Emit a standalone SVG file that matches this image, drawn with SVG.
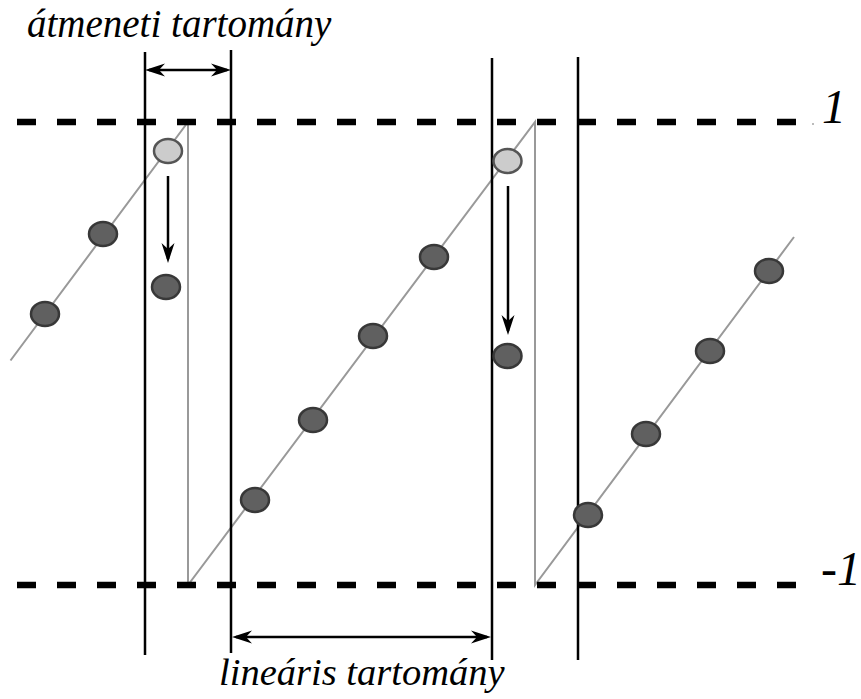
<svg xmlns="http://www.w3.org/2000/svg" width="861" height="699" viewBox="0 0 861 699">
<style>
.lbl{font-family:'Liberation Serif','DejaVu Serif',serif;font-style:italic;fill:#000}
.saw{stroke:#999;stroke-width:2;fill:none}
.bound{stroke:#000;stroke-width:2.5}
.dash{stroke:#000;stroke-width:6.5;stroke-dasharray:19 21}
.dark{fill:#606060;stroke:#383838;stroke-width:2.5}
.light{fill:#cccccc;stroke:#555;stroke-width:2.5}
.arr{stroke:#000;stroke-width:2.5;fill:none}
</style>
<defs>
<marker id="ah" viewBox="-21 -7 22 14" markerWidth="22" markerHeight="14" refX="-4" refY="0" markerUnits="userSpaceOnUse" orient="auto-start-reverse">
<path d="M0,0 L-20,-6.5 L-14,0 L-20,6.5 Z" fill="#000"/>
</marker>
</defs>
<rect width="861" height="699" fill="#fff"/>
<g id="signal">
<polyline class="saw" points="10.5,360.5 188,122 188,585 535,122 535,585 794,237"/>
</g>
<g id="bounds">
<line class="bound" x1="145" y1="52" x2="145" y2="655"/>
<line class="bound" x1="231" y1="50" x2="231" y2="653"/>
<line class="bound" x1="492" y1="58" x2="492" y2="660"/>
<line class="bound" x1="578" y1="57" x2="578" y2="660"/>
</g>
<g id="levels">
<line class="dash" x1="17" y1="122" x2="796" y2="122"/>
<line class="dash" x1="17" y1="585" x2="796" y2="585"/>
<rect x="812" y="123" width="2" height="2" fill="#bbb"/>
</g>
<g id="connectors">
<line class="arr" x1="149" y1="70" x2="227" y2="70" marker-start="url(#ah)" marker-end="url(#ah)"/>
<line class="arr" x1="236" y1="637" x2="487" y2="637" marker-start="url(#ah)" marker-end="url(#ah)"/>
<line class="arr" x1="168" y1="176" x2="168" y2="259" marker-end="url(#ah)"/>
<line class="arr" x1="508" y1="186" x2="508" y2="331" marker-end="url(#ah)"/>
</g>
<g id="dot1"><ellipse class="dark" cx="45" cy="314" rx="14" ry="12"/></g>
<g id="dot2"><ellipse class="dark" cx="103" cy="234" rx="14" ry="12"/></g>
<g id="dot3"><ellipse class="light" cx="168" cy="151" rx="14" ry="12"/></g>
<g id="dot4"><ellipse class="dark" cx="166" cy="287" rx="14" ry="12"/></g>
<g id="dot5"><ellipse class="dark" cx="255" cy="500" rx="14" ry="12"/></g>
<g id="dot6"><ellipse class="dark" cx="313" cy="420" rx="14" ry="12"/></g>
<g id="dot7"><ellipse class="dark" cx="373" cy="336" rx="14" ry="12"/></g>
<g id="dot8"><ellipse class="dark" cx="434" cy="257" rx="14" ry="12"/></g>
<g id="dot9"><ellipse class="light" cx="507.5" cy="161" rx="14" ry="12"/></g>
<g id="dot10"><ellipse class="dark" cx="507.5" cy="356" rx="14" ry="12"/></g>
<g id="dot11"><ellipse class="dark" cx="588" cy="515" rx="14" ry="12"/></g>
<g id="dot12"><ellipse class="dark" cx="646" cy="434" rx="14" ry="12"/></g>
<g id="dot13"><ellipse class="dark" cx="710" cy="351" rx="14" ry="12"/></g>
<g id="dot14"><ellipse class="dark" cx="769" cy="271" rx="14" ry="12"/></g>
<g id="labels">
<text class="lbl" font-family="'Liberation Serif','DejaVu Serif',serif" font-style="italic" x="27" y="37" font-size="39">átmeneti tartomány</text>
<text class="lbl" font-family="'Liberation Serif','DejaVu Serif',serif" font-style="italic" x="219" y="685" font-size="38.5">lineáris tartomány</text>
<text class="lbl" font-family="'Liberation Serif','DejaVu Serif',serif" font-style="italic" x="822" y="123" font-size="48">1</text>
<text class="lbl" font-family="'Liberation Serif','DejaVu Serif',serif" font-style="italic" x="821" y="585" font-size="48">-1</text>
</g>
</svg>
